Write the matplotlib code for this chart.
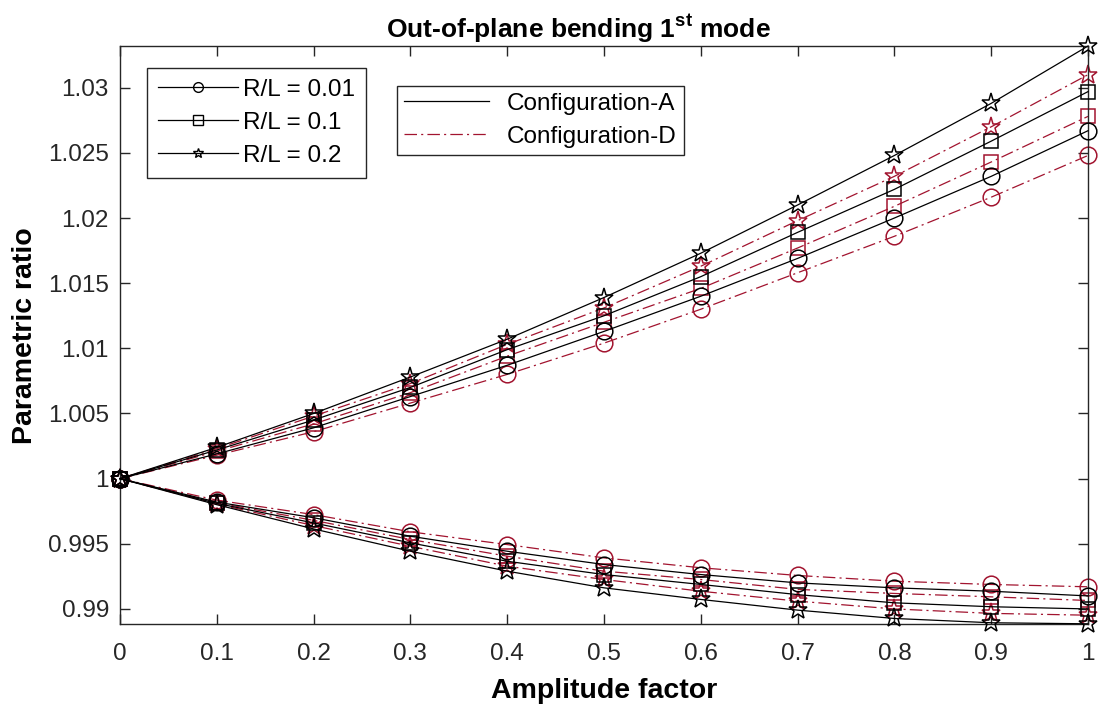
import numpy as np
import matplotlib
matplotlib.use('Agg')
import matplotlib.pyplot as plt
from matplotlib.lines import Line2D

plt.rcParams['font.family'] = ['Liberation Sans', 'DejaVu Sans']
plt.rcParams['mathtext.fontset'] = 'custom'
plt.rcParams['mathtext.rm'] = 'Liberation Sans'
plt.rcParams['mathtext.bf'] = 'Liberation Sans:bold'
plt.rcParams['lines.scale_dashes'] = False

# --- data ---
amp = [0, 0.1, 0.2, 0.3, 0.4, 0.5, 0.6, 0.7, 0.8, 0.9, 1.0]

# upper branch
A_circ_up = [1, 1.0019, 1.0039, 1.0063, 1.0087, 1.0113, 1.0140, 1.0169, 1.0200, 1.0232, 1.0267]
A_sq_up = [1, 1.0022, 1.0045, 1.0070, 1.0099, 1.0125, 1.0155, 1.0189, 1.0222, 1.0259, 1.0297]
A_star_up = [1, 1.0024, 1.0050, 1.0078, 1.0107, 1.0139, 1.0173, 1.0210, 1.0248, 1.0288, 1.0332]
D_circ_up = [1, 1.0018, 1.0036, 1.0058, 1.0080, 1.0104, 1.0130, 1.0158, 1.0186, 1.0216, 1.0248]
D_sq_up = [1, 1.0021, 1.0042, 1.0066, 1.0094, 1.0120, 1.0146, 1.0177, 1.0209, 1.0243, 1.0278]
D_star_up = [1, 1.0023, 1.0048, 1.0073, 1.0103, 1.0131, 1.0163, 1.0198, 1.0232, 1.0270, 1.0310]

# lower branch
A_circ_lo = [1, 0.9982, 0.9970, 0.99558, 0.99443, 0.99341, 0.99264, 0.9920, 0.99162, 0.99136, 0.9910]
A_sq_lo = [1, 0.9981, 0.9966, 0.99507, 0.99366, 0.99264, 0.99188, 0.9911, 0.99047, 0.99017, 0.9900]
A_star_lo = [1, 0.9980, 0.99614, 0.99443, 0.9929, 0.99162, 0.99073, 0.98991, 0.98927, 0.98894, 0.98886]
D_circ_lo = [1, 0.99835, 0.99724, 0.99592, 0.99494, 0.99392, 0.99316, 0.99257, 0.99213, 0.99188, 0.99170]
D_sq_lo = [1, 0.99815, 0.9968, 0.99533, 0.99405, 0.9929, 0.99226, 0.9915, 0.99119, 0.99093, 0.99065]
D_star_lo = [1, 0.99805, 0.9964, 0.99481, 0.99328, 0.99226, 0.99136, 0.9906, 0.9900, 0.98966, 0.98952]

rl_labels = ['R/L = 0.01', 'R/L = 0.1', 'R/L = 0.2']
cfg_labels = ['Configuration-A', 'Configuration-D']
x_ticks = [0, 0.1, 0.2, 0.3, 0.4, 0.5, 0.6, 0.7, 0.8, 0.9, 1]
y_ticks = [0.99, 0.995, 1.0, 1.005, 1.01, 1.015, 1.02, 1.025, 1.03]

black = 'black'
red = '#A2142F'
dashdot = (0, (9, 3, 1.5, 3))
markers = ['o', 's', '*']
msizes = [12, 10, 14]

fig = plt.figure(figsize=(10.99, 7.08), dpi=100)
ax = fig.add_axes([0.1092, 0.118, 0.8808, 0.817])

A_sets = [(A_circ_up, A_circ_lo), (A_sq_up, A_sq_lo), (A_star_up, A_star_lo)]
D_sets = [(D_circ_up, D_circ_lo), (D_sq_up, D_sq_lo), (D_star_up, D_star_lo)]

# Configuration-D (dash-dot, red) first, Configuration-A (solid, black) on top
for (up, lo), m, ms in zip(D_sets, markers, msizes):
    for y in (up, lo):
        ax.plot(amp, y, linestyle=dashdot, color=red, lw=0.9, marker=m, ms=ms,
                mfc='none', mec=red, mew=1.1, clip_on=False, zorder=2)

for (up, lo), m, ms in zip(A_sets, markers, msizes):
    for y in (up, lo):
        ax.plot(amp, y, linestyle='-', color=black, lw=0.9, marker=m, ms=ms,
                mfc='none', mec=black, mew=1.1, clip_on=False, zorder=3)

ax.set_xlim(0, 1)
ax.set_ylim(0.98881, 1.0332)
ax.set_xticks(x_ticks)
ax.set_xticklabels(['%g' % v for v in x_ticks])
ax.set_yticks(y_ticks)
ax.set_yticklabels(['%g' % v for v in y_ticks])
ax.tick_params(direction='in', length=7, width=1, top=True, right=True,
               labelsize=17.5, colors='#262626')
ax.tick_params(axis='y', pad=8)
ax.tick_params(axis='x', pad=13)
for s in ax.spines.values():
    s.set_color('#262626')
    s.set_linewidth(1)

ax.set_xlabel('Amplitude factor', fontsize=20.5, fontweight='bold', labelpad=10)
ax.set_ylabel('Parametric ratio', fontsize=20.5, fontweight='bold', labelpad=7)
ax.set_title(r'Out-of-plane bending 1$^{\mathbf{st}}$ mode', fontsize=19,
             fontweight='bold', pad=6.5, x=0.4737)

# legends
h1 = [Line2D([], [], color=black, lw=0.9, marker=m, ms=7, mfc='none', mew=1)
      for m in ['o', 's', '*']]
leg1 = ax.legend(h1, rl_labels, loc='upper left', bbox_to_anchor=(0.028, 0.962),
                 borderaxespad=0, fontsize=17.5, handlelength=3.3, handletextpad=0.2,
                 labelspacing=0.45, borderpad=0.45, fancybox=False, framealpha=1,
                 edgecolor='#262626')
leg1.get_frame().set_linewidth(1)
ax.add_artist(leg1)

h2 = [Line2D([], [], color=black, lw=0.9, linestyle='-'),
      Line2D([], [], color=red, lw=0.9, linestyle=dashdot)]
leg2 = ax.legend(h2, cfg_labels, loc='upper left', bbox_to_anchor=(0.286, 0.931),
                 borderaxespad=0, fontsize=17.5, handlelength=3.5, handletextpad=0.75,
                 labelspacing=0.45, borderpad=0.28, fancybox=False, framealpha=1,
                 edgecolor='#262626')
leg2.get_frame().set_linewidth(1)

fig.savefig('out.png', dpi=100)
